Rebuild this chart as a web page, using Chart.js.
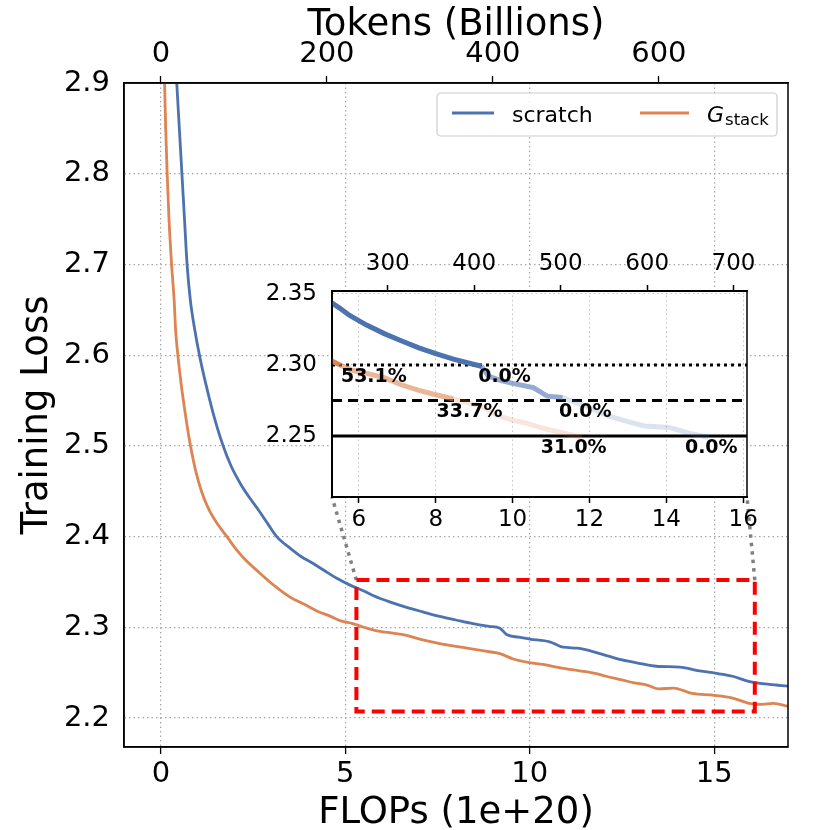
<!DOCTYPE html>
<html>
<head>
<meta charset="utf-8">
<script src="https://cdn.jsdelivr.net/npm/chart.js@4"></script>
<style>
  html, body { margin: 0; padding: 0; background: #fff; }
  #wrap { position: relative; width: 830px; height: 830px; }
  #main { position: absolute; left: 0; top: 0; }
  #inset { position: absolute; left: 250px; top: 240px; }
</style>
</head>
<body>
<div id="wrap">
  <canvas id="main" width="830" height="830"></canvas>
  <canvas id="inset" width="520" height="300"></canvas>
</div>
<script>
// training loss vs compute
const flopsScratch = [0.35, 0.43, 0.50, 0.57, 0.64, 0.71, 0.80, 0.91, 1.06, 1.22,
  1.41, 1.67, 1.90, 2.16, 2.40, 2.65, 2.90, 3.14, 3.51, 3.80,
  4.14, 4.45, 4.77, 5.10, 5.50, 5.75, 6.20, 6.66, 7.10, 7.56,
  8.00, 8.46, 8.90, 9.19, 9.37, 9.70, 10.00, 10.54, 10.90, 11.30,
  11.90, 12.50, 13.00, 13.43, 14.07, 14.60, 15.10, 15.50, 15.96, 16.50, 17.00];
const lossScratch = [2.96, 2.90, 2.85, 2.80, 2.75, 2.70, 2.660, 2.630, 2.597, 2.568,
  2.537, 2.502, 2.478, 2.458, 2.443, 2.429, 2.414, 2.400, 2.387, 2.378,
  2.370, 2.362, 2.354, 2.347, 2.340, 2.335, 2.328, 2.322, 2.317, 2.312,
  2.308, 2.304, 2.301, 2.299, 2.292, 2.289, 2.287, 2.284, 2.278, 2.277,
  2.271, 2.264, 2.260, 2.257, 2.256, 2.252, 2.249, 2.246, 2.240, 2.237, 2.235];

const flopsGstack = [0.05, 0.10, 0.13, 0.17, 0.22, 0.29, 0.36, 0.40, 0.46, 0.55,
  0.67, 0.78, 0.94, 1.10, 1.30, 1.55, 1.79, 2.00, 2.25, 2.70,
  3.10, 3.51, 3.90, 4.23, 4.60, 4.88, 5.20, 5.50, 5.85, 6.20,
  6.66, 7.10, 7.56, 8.00, 8.46, 8.90, 9.19, 9.55, 10.00, 10.35,
  10.72, 11.00, 11.35, 11.80, 12.07, 12.50, 12.80, 13.20, 13.50, 13.90,
  14.40, 15.00, 15.50, 15.96, 16.30, 16.60, 17.00];
const lossGstack = [2.96, 2.90, 2.85, 2.80, 2.75, 2.70, 2.66, 2.627, 2.600, 2.568,
  2.533, 2.505, 2.473, 2.450, 2.430, 2.413, 2.400, 2.388, 2.376, 2.359,
  2.345, 2.333, 2.325, 2.318, 2.312, 2.307, 2.304, 2.300, 2.296, 2.294,
  2.291, 2.286, 2.282, 2.279, 2.276, 2.273, 2.271, 2.265, 2.261, 2.259,
  2.256, 2.254, 2.252, 2.249, 2.246, 2.242, 2.239, 2.236, 2.232, 2.233,
  2.227, 2.225, 2.222, 2.216, 2.215, 2.216, 2.213];

// axes
const flopRange = [-1, 17];
const lossRange = [2.168, 2.9];
const tokensPerFlop = 400 / 9;      // billions of tokens per 1e20 FLOPs
const flopTicks = [0, 5, 10, 15];
const tokenTicks = [0, 200, 400, 600];
const lossTicks = [2.2, 2.3, 2.4, 2.5, 2.6, 2.7, 2.8, 2.9];

// zoomed region
const zoomFlops = [5.3, 16.1];
const zoomLoss = [2.207, 2.352];
const insetFlopTicks = [6, 8, 10, 12, 14, 16];
const insetTokenTicks = [300, 400, 500, 600, 700];
const insetLossTicks = [2.25, 2.30, 2.35];
const thresholds = [2.30, 2.275, 2.25];
const gainLabels = ['53.1%', '0.0%', '33.7%', '0.0%', '31.0%', '0.0%'];
const gainFlops = [6.39, 9.79, 8.88, 11.89, 11.59, 15.17];
const gainLoss = [2.30, 2.30, 2.275, 2.275, 2.25, 2.25];

const BLUE = '76,114,176';
const ORANGE = '221,132,82';
const GRID = '#a6a6a6';

Chart.defaults.font.family = "'DejaVu Sans', sans-serif";
Chart.defaults.color = '#000';

function pts(xs, ys) {
  return xs.map((x, i) => ({ x: x, y: ys[i] }));
}

function setTicks(list) {
  return s => { s.ticks = list.map(v => ({ value: v })); };
}

// fade the zoomed curves as they pass each threshold
function fade(rgb) {
  return ctx => {
    const y = (ctx.p0.parsed.y + ctx.p1.parsed.y) / 2;
    if (y < thresholds[2]) return 'rgba(0,0,0,0)';
    const a = y >= thresholds[0] ? 1 : (y >= thresholds[1] ? 0.6 : 0.2);
    return 'rgba(' + rgb + ',' + a + ')';
  };
}

const frame = {
  id: 'frame',
  afterDatasetsDraw(chart, args, opts) {
    const a = chart.chartArea;
    const ctx = chart.ctx;
    ctx.save();
    ctx.strokeStyle = '#000';
    ctx.lineWidth = opts.width || 1.5;
    ctx.strokeRect(a.left, a.top, a.right - a.left, a.bottom - a.top);
    ctx.restore();
  }
};

const whiteArea = {
  id: 'whiteArea',
  beforeDraw(chart) {
    const a = chart.chartArea;
    chart.ctx.save();
    chart.ctx.fillStyle = '#fff';
    chart.ctx.fillRect(a.left, a.top, a.right - a.left, a.bottom - a.top);
    chart.ctx.restore();
  }
};

const gainText = {
  id: 'gainText',
  afterDatasetsDraw(chart) {
    const { ctx, scales: { x, y } } = chart;
    ctx.save();
    ctx.font = "bold 19px 'DejaVu Sans'";
    ctx.fillStyle = '#000';
    ctx.textAlign = 'center';
    ctx.textBaseline = 'middle';
    gainLabels.forEach((t, i) => {
      ctx.fillText(t, x.getPixelForValue(gainFlops[i]), y.getPixelForValue(gainLoss[i]) + 12);
    });
    ctx.restore();
  }
};

const threshStyle = [[3, 4], [10, 6], []];

const insetCanvas = document.getElementById('inset');
const insetChart = new Chart(insetCanvas, {
  type: 'line',
  data: {
    datasets: [
      {
        data: pts(flopsScratch, lossScratch),
        borderColor: 'rgb(' + BLUE + ')',
        borderWidth: 5,
        segment: { borderColor: fade(BLUE) }
      },
      {
        data: pts(flopsGstack, lossGstack),
        borderColor: 'rgb(' + ORANGE + ')',
        borderWidth: 5,
        segment: { borderColor: fade(ORANGE) }
      }
    ].concat(thresholds.map((t, i) => ({
      data: [{ x: zoomFlops[0], y: t }, { x: zoomFlops[1], y: t }],
      borderColor: '#000',
      borderWidth: 3,
      borderDash: threshStyle[i]
    })))
  },
  options: {
    responsive: false,
    animation: false,
    layout: { padding: { left: 0, right: 23, top: 0, bottom: 0 } },
    elements: { point: { radius: 0 }, line: { tension: 0 } },
    plugins: { legend: { display: false }, tooltip: { enabled: false } },
    scales: {
      x: {
        type: 'linear', position: 'bottom',
        min: zoomFlops[0], max: zoomFlops[1],
        afterBuildTicks: setTicks(insetFlopTicks),
        afterFit: s => { s.height = 43; },
        grid: { color: '#c4c4c4', lineWidth: 1, tickColor: '#000', tickLength: 6, tickWidth: 1.5, tickBorderDash: [] },
        border: { color: '#000', width: 2, dash: [1.5, 3] },
        ticks: { font: { size: 23 }, padding: 3, maxRotation: 0 }
      },
      x2: {
        type: 'linear', position: 'top',
        min: zoomFlops[0] * tokensPerFlop, max: zoomFlops[1] * tokensPerFlop,
        afterBuildTicks: setTicks(insetTokenTicks),
        afterFit: s => { s.height = 51; },
        grid: { drawOnChartArea: false, tickColor: '#000', tickLength: 6, tickWidth: 1.5 },
        border: { color: '#000', width: 2 },
        ticks: { font: { size: 23 }, padding: 7, maxRotation: 0 }
      },
      y: {
        type: 'linear',
        min: zoomLoss[0], max: zoomLoss[1],
        afterBuildTicks: setTicks(insetLossTicks),
        afterFit: s => { s.width = 82; },
        grid: { color: '#c4c4c4', lineWidth: 1, drawTicks: false },
        border: { color: '#000', width: 2, dash: [1.5, 3] },
        ticks: { font: { size: 23 }, padding: 15, callback: v => v.toFixed(2) }
      }
    }
  },
  plugins: [whiteArea, gainText, frame]
});

const zoomMarks = {
  id: 'zoomMarks',
  afterDatasetsDraw(chart) {
    const { ctx, scales: { x, y } } = chart;
    const l = x.getPixelForValue(zoomFlops[0]), r = x.getPixelForValue(zoomFlops[1]);
    const t = y.getPixelForValue(zoomLoss[1]), b = y.getPixelForValue(zoomLoss[0]);
    const ia = insetChart.chartArea;
    const ox = insetCanvas.offsetLeft, oy = insetCanvas.offsetTop;
    ctx.save();
    ctx.strokeStyle = '#808080';
    ctx.lineWidth = 3.5;
    ctx.setLineDash([3.5, 5]);
    ctx.beginPath();
    ctx.moveTo(l, t); ctx.lineTo(ox + ia.left, oy + ia.bottom);
    ctx.moveTo(r, t); ctx.lineTo(ox + ia.right, oy + ia.bottom);
    ctx.stroke();
    ctx.strokeStyle = '#ff0000';
    ctx.lineWidth = 4;
    ctx.setLineDash([13, 7]);
    ctx.strokeRect(l, t, r - l, b - t);
    ctx.restore();
  }
};

const legendBox = {
  id: 'legendBox',
  afterDraw(chart) {
    const { ctx, chartArea: a } = chart;
    const w = 340, h = 43;
    const x0 = a.right - 11 - w, y0 = a.top + 10;
    ctx.save();
    ctx.fillStyle = 'rgba(255,255,255,0.85)';
    ctx.strokeStyle = '#cccccc';
    ctx.lineWidth = 1.2;
    ctx.beginPath();
    ctx.roundRect(x0, y0, w, h, 4);
    ctx.fill();
    ctx.stroke();

    ctx.lineWidth = 3;
    ctx.strokeStyle = 'rgb(' + BLUE + ')';
    ctx.beginPath(); ctx.moveTo(x0 + 15, y0 + 20); ctx.lineTo(x0 + 57, y0 + 20); ctx.stroke();
    ctx.strokeStyle = 'rgb(' + ORANGE + ')';
    ctx.beginPath(); ctx.moveTo(x0 + 203, y0 + 20); ctx.lineTo(x0 + 252, y0 + 20); ctx.stroke();

    ctx.fillStyle = '#000';
    ctx.textBaseline = 'alphabetic';
    ctx.font = "22px 'DejaVu Sans'";
    ctx.fillText('scratch', x0 + 75, y0 + 28.5);
    ctx.font = "italic 22px 'DejaVu Sans'";
    ctx.fillText('G', x0 + 270, y0 + 28.5);
    const gw = ctx.measureText('G').width;
    ctx.font = "16.5px 'DejaVu Sans'";
    ctx.fillText('stack', x0 + 270 + gw + 1, y0 + 31.5);
    ctx.restore();
  }
};

const mainChart = new Chart(document.getElementById('main'), {
  type: 'line',
  data: {
    datasets: [
      {
        label: 'scratch',
        data: pts(flopsScratch, lossScratch),
        borderColor: 'rgb(' + BLUE + ')',
        borderWidth: 2.8,
        cubicInterpolationMode: 'monotone'
      },
      {
        label: 'Gstack',
        data: pts(flopsGstack, lossGstack),
        borderColor: 'rgb(' + ORANGE + ')',
        borderWidth: 2.8,
        cubicInterpolationMode: 'monotone'
      }
    ]
  },
  options: {
    responsive: false,
    animation: false,
    layout: { padding: { left: 0, right: 42, top: 0, bottom: 0 } },
    elements: { point: { radius: 0 } },
    plugins: { legend: { display: false }, tooltip: { enabled: false } },
    scales: {
      x: {
        type: 'linear', position: 'bottom',
        min: flopRange[0], max: flopRange[1],
        afterBuildTicks: setTicks(flopTicks),
        afterFit: s => { s.height = 83; },
        grid: { color: GRID, lineWidth: 1.2, tickColor: '#000', tickLength: 7, tickWidth: 1.3, tickBorderDash: [] },
        border: { color: '#000', width: 1.5, dash: [1.5, 3] },
        ticks: { font: { size: 29 }, padding: 3, maxRotation: 0 },
        title: { display: true, text: 'FLOPs (1e+20)', font: { size: 37 }, padding: { top: 0, bottom: -6 } }
      },
      x2: {
        type: 'linear', position: 'top',
        min: flopRange[0] * tokensPerFlop, max: flopRange[1] * tokensPerFlop,
        afterBuildTicks: setTicks(tokenTicks),
        afterFit: s => { s.height = 83; },
        grid: { drawOnChartArea: false, tickColor: '#000', tickLength: 7, tickWidth: 1.3 },
        border: { color: '#000', width: 1.5 },
        ticks: { font: { size: 29 }, padding: 4, maxRotation: 0 },
        title: { display: true, text: 'Tokens (Billions)', font: { size: 37 }, padding: { top: 3, bottom: 0 } }
      },
      y: {
        type: 'linear',
        min: lossRange[0], max: lossRange[1],
        afterBuildTicks: setTicks(lossTicks),
        afterFit: s => { s.width = 124; },
        grid: { color: GRID, lineWidth: 1.2, drawTicks: false },
        border: { color: '#000', width: 1.5, dash: [1.5, 3] },
        ticks: { font: { size: 29 }, padding: 14, callback: v => v.toFixed(1) },
        title: { display: true, text: 'Training Loss', font: { size: 37 }, padding: { top: 15, bottom: 0 } }
      }
    }
  },
  plugins: [zoomMarks, frame, legendBox]
});
</script>
</body>
</html>
